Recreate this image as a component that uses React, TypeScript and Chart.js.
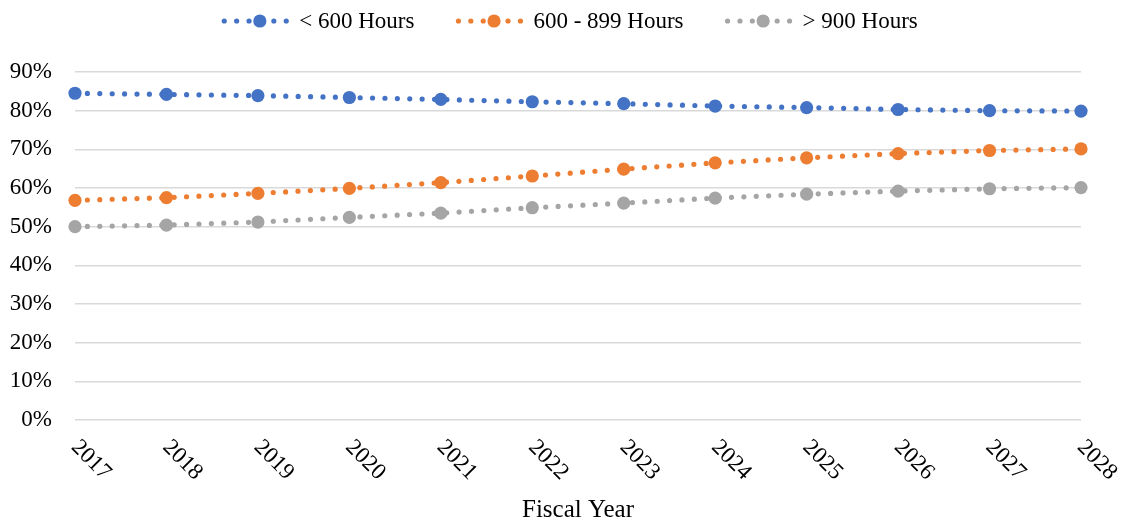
import React, { useEffect, useRef } from "react";
import { Chart, registerables } from "chart.js";

Chart.register(...registerables);

const years = ["2017", "2018", "2019", "2020", "2021", "2022", "2023", "2024", "2025", "2026", "2027", "2028"];
const under600 = [84.5, 84.2, 83.9, 83.4, 82.9, 82.3, 81.8, 81.2, 80.8, 80.3, 80.0, 79.9];
const mid600to899 = [56.8, 57.5, 58.6, 59.9, 61.4, 63.1, 64.9, 66.5, 67.8, 68.9, 69.7, 70.1];
const over900 = [50.0, 50.4, 51.2, 52.4, 53.5, 54.9, 56.1, 57.4, 58.4, 59.2, 59.8, 60.1];
const seriesNames = ["< 600 Hours", "600 - 899 Hours", "> 900 Hours"];
const seriesColors = ["#4472C4", "#ED7D31", "#A5A5A5"];
const yTickMin = 0;
const yTickMax = 90;
const yTickStep = 10;
const xTitle = "Fiscal Year";

const FONT = '"Liberation Serif", "Times New Roman", serif';
const DOT_GAP = 12.4;
const LINE_W = 5.2;

const customDraw = {
  id: "customDraw",
  afterDraw(chart: any) {
    const ctx = chart.ctx;
    const area = chart.chartArea;
    const xScale = chart.scales.x;
    // rotated x labels (clockwise)
    ctx.save();
    ctx.fillStyle = "#000";
    ctx.font = `23px ${FONT}`;
    ctx.textAlign = "center";
    ctx.textBaseline = "middle";
    years.forEach((lab, i) => {
      const x = xScale.getPixelForValue(i);
      ctx.save();
      ctx.translate(x + 16, area.bottom + 40);
      ctx.rotate(Math.PI / 4);
      ctx.fillText(lab, 0, 0);
      ctx.restore();
    });
    ctx.restore();

    // legend
    ctx.save();
    ctx.font = `23px ${FONT}`;
    const symW = 62.6;
    const textOff = 75;
    const gap = 44;
    const widths = seriesNames.map((n) => ctx.measureText(n).width);
    const total = widths.reduce((a, w) => a + textOff + w, 0) + gap * (seriesNames.length - 1);
    let x = (area.left + area.right) / 2 - 7 - total / 2;
    const y = 21;
    seriesNames.forEach((name, i) => {
      const c = seriesColors[i];
      ctx.strokeStyle = c;
      ctx.lineWidth = LINE_W;
      ctx.lineCap = "round";
      ctx.setLineDash([0, DOT_GAP]);
      ctx.beginPath();
      ctx.moveTo(x, y);
      ctx.lineTo(x + symW + 0.5, y);
      ctx.stroke();
      ctx.setLineDash([]);
      ctx.fillStyle = c;
      ctx.beginPath();
      ctx.arc(x + 35.6, y, 6.6, 0, Math.PI * 2);
      ctx.fill();
      ctx.fillStyle = "#000";
      ctx.textAlign = "left";
      ctx.textBaseline = "middle";
      ctx.fillText(name, x + textOff, y + 1);
      x += textOff + widths[i] + gap;
    });
    ctx.restore();
  },
};

export default function App() {
  const ref = useRef<HTMLCanvasElement | null>(null);
  useEffect(() => {
    if (!ref.current) return;
    const seriesData = [under600, mid600to899, over900];
    const chart = new Chart(ref.current, {
      type: "line",
      data: {
        labels: years,
        datasets: seriesNames.map((name, i) => ({
          label: name,
          data: seriesData[i],
          borderColor: seriesColors[i],
          backgroundColor: seriesColors[i],
          borderWidth: LINE_W,
          borderDash: [0, DOT_GAP],
          borderCapStyle: "round",
          pointRadius: 6.6,
          pointHoverRadius: 6.6,
          pointBackgroundColor: seriesColors[i],
          pointBorderWidth: 0,
          tension: 0,
          fill: false,
          clip: false,
        })),
      },
      options: {
        animation: false,
        responsive: true,
        maintainAspectRatio: false,
        layout: { padding: { top: 72, right: 41, left: 0, bottom: 0 } },
        plugins: {
          legend: { display: false },
          tooltip: { enabled: false },
        },
        scales: {
          x: {
            type: "category",
            offset: false,
            grid: { display: false },
            border: { display: false },
            ticks: {
              color: "rgba(0,0,0,0)",
              font: { family: FONT, size: 23 },
              minRotation: 45,
              maxRotation: 45,
              autoSkip: false,
            },
            title: {
              display: true,
              text: xTitle,
              color: "#000",
              font: { family: FONT, size: 25 },
              padding: { top: 0, bottom: 0 },
            },
            afterFit: (scale: any) => {
              scale.height = 105;
            },
          },
          y: {
            min: yTickMin,
            max: yTickMax,
            grid: { color: "#D9D9D9", lineWidth: 1.6, drawTicks: false },
            border: { display: false },
            ticks: {
              stepSize: yTickStep,
              color: "#000",
              padding: 23,
              font: { family: FONT, size: 23 },
              callback: (v: any) => `${v}%`,
            },
            afterFit: (scale: any) => {
              scale.width = 75;
            },
          },
        },
      },
      plugins: [customDraw],
    });
    return () => chart.destroy();
  }, []);
  return (
    <div style={{ position: "absolute", left: 0, top: 0, width: 1122, height: 525 }}>
      <canvas ref={ref} />
    </div>
  );
}
